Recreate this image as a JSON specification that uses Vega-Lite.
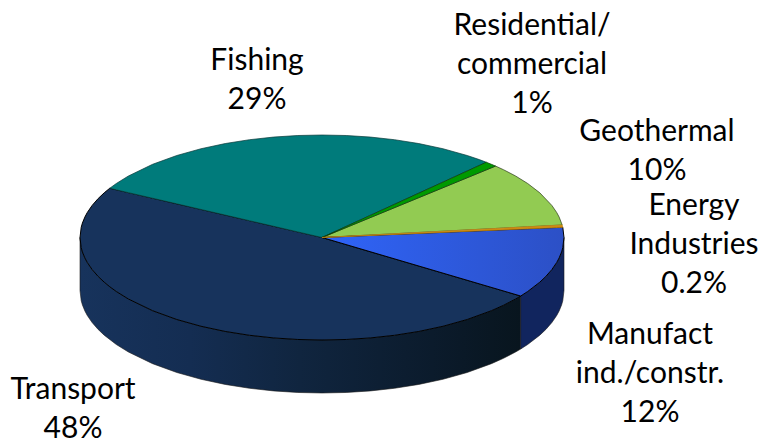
{"$schema":"https://vega.github.io/schema/vega-lite/v6.json","width":759,"height":439,"autosize":{"type":"none"},"padding":0,"background":"white","view":{"stroke":null},"config":{"view":{"stroke":null}},"layer":[{"data":{"values":[
{"part":"wall-Transport","x":-1,"y":0,"y2":-0.517},{"part":"wall-Transport","x":-0.995,"y":-0.0999,"y2":-0.6169},{"part":"wall-Transport","x":-0.99,"y":-0.1411,"y2":-0.6581},{"part":"wall-Transport","x":-0.98,"y":-0.199,"y2":-0.716},{"part":"wall-Transport","x":-0.97,"y":-0.2431,"y2":-0.7601},{"part":"wall-Transport","x":-0.95,"y":-0.3123,"y2":-0.8293},{"part":"wall-Transport","x":-0.925,"y":-0.38,"y2":-0.897},{"part":"wall-Transport","x":-0.9,"y":-0.4359,"y2":-0.9529},{"part":"wall-Transport","x":-0.85,"y":-0.5268,"y2":-1.0438},{"part":"wall-Transport","x":-0.8,"y":-0.6,"y2":-1.117},{"part":"wall-Transport","x":-0.7,"y":-0.7141,"y2":-1.2311},{"part":"wall-Transport","x":-0.6,"y":-0.8,"y2":-1.317},{"part":"wall-Transport","x":-0.5,"y":-0.866,"y2":-1.383},{"part":"wall-Transport","x":-0.4,"y":-0.9165,"y2":-1.4335},{"part":"wall-Transport","x":-0.3,"y":-0.9539,"y2":-1.4709},{"part":"wall-Transport","x":-0.2,"y":-0.9798,"y2":-1.4968},{"part":"wall-Transport","x":-0.1,"y":-0.995,"y2":-1.512},{"part":"wall-Transport","x":0,"y":-1,"y2":-1.517},{"part":"wall-Transport","x":0.1,"y":-0.995,"y2":-1.512},{"part":"wall-Transport","x":0.2,"y":-0.9798,"y2":-1.4968},{"part":"wall-Transport","x":0.3,"y":-0.9539,"y2":-1.4709},{"part":"wall-Transport","x":0.4,"y":-0.9165,"y2":-1.4335},{"part":"wall-Transport","x":0.5,"y":-0.866,"y2":-1.383},{"part":"wall-Transport","x":0.6,"y":-0.8,"y2":-1.317},{"part":"wall-Transport","x":0.7,"y":-0.7141,"y2":-1.2311},{"part":"wall-Transport","x":0.75,"y":-0.6614,"y2":-1.1784},{"part":"wall-Transport","x":0.8,"y":-0.6,"y2":-1.117},{"part":"wall-Transport","x":0.821,"y":-0.571,"y2":-1.088},
{"part":"wall-Manufact","x":0.821,"y":-0.571,"y2":-1.088},{"part":"wall-Manufact","x":0.85,"y":-0.5268,"y2":-1.0438},{"part":"wall-Manufact","x":0.9,"y":-0.4359,"y2":-0.9529},{"part":"wall-Manufact","x":0.925,"y":-0.38,"y2":-0.897},{"part":"wall-Manufact","x":0.95,"y":-0.3123,"y2":-0.8293},{"part":"wall-Manufact","x":0.97,"y":-0.2431,"y2":-0.7601},{"part":"wall-Manufact","x":0.98,"y":-0.199,"y2":-0.716},{"part":"wall-Manufact","x":0.99,"y":-0.1411,"y2":-0.6581},{"part":"wall-Manufact","x":0.995,"y":-0.0999,"y2":-0.6169},{"part":"wall-Manufact","x":1,"y":0,"y2":-0.517},
{"part":"Fishing","x":-0.877,"y":0.4805,"y2":0.48},{"part":"Fishing","x":-0.85,"y":0.5268,"y2":0.4652},{"part":"Fishing","x":-0.8,"y":0.6,"y2":0.4378},{"part":"Fishing","x":-0.7,"y":0.7141,"y2":0.3831},{"part":"Fishing","x":-0.6,"y":0.8,"y2":0.3284},{"part":"Fishing","x":-0.5,"y":0.866,"y2":0.2737},{"part":"Fishing","x":-0.4,"y":0.9165,"y2":0.2189},{"part":"Fishing","x":-0.3,"y":0.9539,"y2":0.1642},{"part":"Fishing","x":-0.2,"y":0.9798,"y2":0.1095},{"part":"Fishing","x":-0.1,"y":0.995,"y2":0.0547},{"part":"Fishing","x":0,"y":1,"y2":0},{"part":"Fishing","x":0.1,"y":0.995,"y2":0.1081},{"part":"Fishing","x":0.2,"y":0.9798,"y2":0.2162},{"part":"Fishing","x":0.3,"y":0.9539,"y2":0.3243},{"part":"Fishing","x":0.4,"y":0.9165,"y2":0.4324},{"part":"Fishing","x":0.5,"y":0.866,"y2":0.5405},{"part":"Fishing","x":0.6,"y":0.8,"y2":0.6486},{"part":"Fishing","x":0.65,"y":0.76,"y2":0.7027},{"part":"Fishing","x":0.679,"y":0.734,"y2":0.734},
{"part":"Residential","x":0,"y":0,"y2":0},{"part":"Residential","x":0.679,"y":0.734,"y2":0.66},{"part":"Residential","x":0.7,"y":0.7141,"y2":0.6804},{"part":"Residential","x":0.717,"y":0.697,"y2":0.697},
{"part":"Geothermal","x":0,"y":0,"y2":0},{"part":"Geothermal","x":0.717,"y":0.697,"y2":0.0881},{"part":"Geothermal","x":0.75,"y":0.6614,"y2":0.0922},{"part":"Geothermal","x":0.8,"y":0.6,"y2":0.0983},{"part":"Geothermal","x":0.85,"y":0.5268,"y2":0.1045},{"part":"Geothermal","x":0.9,"y":0.4359,"y2":0.1106},{"part":"Geothermal","x":0.95,"y":0.3123,"y2":0.1168},{"part":"Geothermal","x":0.97,"y":0.2431,"y2":0.1192},{"part":"Geothermal","x":0.98,"y":0.199,"y2":0.1204},{"part":"Geothermal","x":0.9925,"y":0.122,"y2":0.122},
{"part":"Manufact","x":0,"y":0,"y2":0},{"part":"Manufact","x":0.821,"y":0.0825,"y2":-0.571},{"part":"Manufact","x":0.85,"y":0.0854,"y2":-0.5268},{"part":"Manufact","x":0.9,"y":0.0905,"y2":-0.4359},{"part":"Manufact","x":0.925,"y":0.093,"y2":-0.38},{"part":"Manufact","x":0.95,"y":0.0955,"y2":-0.3123},{"part":"Manufact","x":0.97,"y":0.0975,"y2":-0.2431},{"part":"Manufact","x":0.98,"y":0.0985,"y2":-0.199},{"part":"Manufact","x":0.99,"y":0.0995,"y2":-0.1411},{"part":"Manufact","x":0.995,"y":0.1,"y2":-0.0999},{"part":"Manufact","x":1,"y":0,"y2":0},
{"part":"Energy","x":0,"y":0,"y2":0},{"part":"Energy","x":0.9925,"y":0.122,"y2":0.0997},{"part":"Energy","x":0.995,"y":0.1,"y2":0.1},
{"part":"Transport","x":-1,"y":0,"y2":0},{"part":"Transport","x":-0.995,"y":0.0999,"y2":-0.0999},{"part":"Transport","x":-0.99,"y":0.1411,"y2":-0.1411},{"part":"Transport","x":-0.98,"y":0.199,"y2":-0.199},{"part":"Transport","x":-0.97,"y":0.2431,"y2":-0.2431},{"part":"Transport","x":-0.95,"y":0.3123,"y2":-0.3123},{"part":"Transport","x":-0.925,"y":0.38,"y2":-0.38},{"part":"Transport","x":-0.9,"y":0.4359,"y2":-0.4359},{"part":"Transport","x":-0.877,"y":0.4805,"y2":-0.4805},{"part":"Transport","x":-0.85,"y":0.4652,"y2":-0.5268},{"part":"Transport","x":-0.8,"y":0.4378,"y2":-0.6},{"part":"Transport","x":-0.7,"y":0.3831,"y2":-0.7141},{"part":"Transport","x":-0.6,"y":0.3284,"y2":-0.8},{"part":"Transport","x":-0.5,"y":0.2737,"y2":-0.866},{"part":"Transport","x":-0.4,"y":0.2189,"y2":-0.9165},{"part":"Transport","x":-0.3,"y":0.1642,"y2":-0.9539},{"part":"Transport","x":-0.2,"y":0.1095,"y2":-0.9798},{"part":"Transport","x":-0.1,"y":0.0547,"y2":-0.995},{"part":"Transport","x":0,"y":0,"y2":-1},{"part":"Transport","x":0.1,"y":-0.0696,"y2":-0.995},{"part":"Transport","x":0.2,"y":-0.1391,"y2":-0.9798},{"part":"Transport","x":0.3,"y":-0.2087,"y2":-0.9539},{"part":"Transport","x":0.4,"y":-0.2782,"y2":-0.9165},{"part":"Transport","x":0.5,"y":-0.3478,"y2":-0.866},{"part":"Transport","x":0.6,"y":-0.4173,"y2":-0.8},{"part":"Transport","x":0.7,"y":-0.4869,"y2":-0.7141},{"part":"Transport","x":0.75,"y":-0.5216,"y2":-0.6614},{"part":"Transport","x":0.8,"y":-0.5564,"y2":-0.6},{"part":"Transport","x":0.821,"y":-0.571,"y2":-0.571}
]},
"encoding":{"x":{"field":"x","type":"quantitative","scale":{"domain":[-1.3306,1.8058],"nice":false,"zero":false},"axis":null},"y":{"field":"y","type":"quantitative","scale":{"domain":[-1.9659,2.3171],"nice":false,"zero":false},"axis":null},"y2":{"field":"y2"}},
"layer":[
{"transform":[{"filter":"datum.part=='wall-Transport'"}],"mark":{"type":"area","stroke":"#1a1a1a","strokeWidth":0.6,"color":{"gradient":"linear","x1":0,"y1":0,"x2":1,"y2":0,"stops":[{"offset":0,"color":"#17335c"},{"offset":0.25,"color":"#142d52"},{"offset":0.5,"color":"#10253f"},{"offset":0.8,"color":"#0b1b2c"},{"offset":1,"color":"#08151e"}]}}},
{"transform":[{"filter":"datum.part=='wall-Manufact'"}],"mark":{"type":"area","color":"#11255e","stroke":"#1a1a1a","strokeWidth":0.6}},
{"transform":[{"filter":"datum.part=='Transport'"}],"mark":{"type":"area","color":"#17335c","stroke":"#000000","strokeWidth":1}},
{"transform":[{"filter":"datum.part=='Fishing'"}],"mark":{"type":"area","color":"#007b7b","stroke":"#0a3a3a","strokeWidth":0.7}},
{"transform":[{"filter":"datum.part=='Geothermal'"}],"mark":{"type":"area","color":"#92cb52","stroke":"#2a3a1a","strokeWidth":0.7}},
{"transform":[{"filter":"datum.part=='Residential'"}],"mark":{"type":"area","color":"#009a00","stroke":"#0a3a0a","strokeWidth":0.7}},
{"transform":[{"filter":"datum.part=='Manufact'"}],"mark":{"type":"area","stroke":"#000000","strokeWidth":1,"color":{"gradient":"linear","x1":0,"y1":0,"x2":1,"y2":0,"stops":[{"offset":0,"color":"#2f64f8"},{"offset":1,"color":"#2c50c6"}]}}},
{"transform":[{"filter":"datum.part=='Energy'"}],"mark":{"type":"area","color":"#d08a10","stroke":"#c98a12","strokeWidth":0.7}}
]},
{"data":{"values":[
{"label":"Fishing\n29%","x":-0.2686,"y":1.722},
{"label":"Residential/\ncommercial\n1%","x":0.8678,"y":2.0634},
{"label":"Geothermal\n10%","x":1.3843,"y":1.0293},
{"label":"Energy\nIndustries\n0.2%","x":1.5372,"y":0.3073},
{"label":"Manufact\nind./constr.\n12%","x":1.3554,"y":-0.9512},
{"label":"Transport\n48%","x":-1.0289,"y":-1.4878}
]},
"mark":{"type":"text","font":"Lato","fontSize":30,"lineBreak":"\n","lineHeight":39,"align":"center","baseline":"middle","color":"#000000"},
"encoding":{"x":{"field":"x","type":"quantitative","scale":{"domain":[-1.3306,1.8058],"nice":false,"zero":false},"axis":null},"y":{"field":"y","type":"quantitative","scale":{"domain":[-1.9659,2.3171],"nice":false,"zero":false},"axis":null},"text":{"field":"label"}}}
]}
